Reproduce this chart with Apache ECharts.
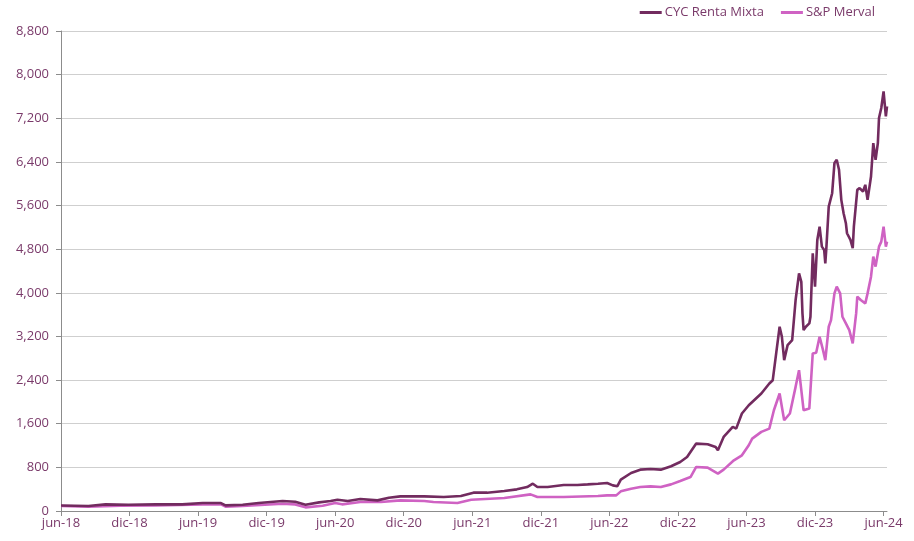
<!DOCTYPE html>
<html>
<head>
<meta charset="utf-8">
<script src="https://cdn.jsdelivr.net/npm/echarts@6/dist/echarts.min.js"></script>
<style>
html,body{margin:0;padding:0;background:#fff;}
#chart{width:914px;height:541px;}
</style>
</head>
<body>
<div id="chart"></div>
<script>
// x values: months elapsed since jun-18
const tickLabels = ['jun-18','dic-18','jun-19','dic-19','jun-20','dic-20','jun-21','dic-21','jun-22','dic-22','jun-23','dic-23','jun-24'];

const cycMonths = [0,2.4,3.9,5.9,8.3,10.6,12.4,14.0,14.4,15.9,17.3,19.4,20.5,21.4,22.6,23.6,24.2,25.1,26.2,27.7,28.7,29.7,31.8,33.5,35.0,36.1,37.3,38.8,39.9,40.8,41.3,41.7,42.6,44.0,45.2,46.1,47.0,47.8,48.3,48.7,49.0,49.9,50.7,51.6,52.5,53.4,54.2,54.8,55.6,56.6,57.3,57.5,58.0,58.8,59.1,59.6,60.2,61.3,62.0,62.3,62.6,62.9,63.1,63.3,63.6,64.0,64.3,64.6,64.8,64.9,65.0,65.2,65.5,65.6,65.8,66.0,66.2,66.4,66.6,66.8,66.9,67.0,67.2,67.5,67.7,67.9,68.1,68.3,68.5,68.7,68.8,69.1,69.3,69.4,69.7,69.9,70.2,70.4,70.6,70.9,71.1,71.3,71.5,71.6,71.8,72.0,72.2,72.3];
const cycValues = [100,91,121,115,121,121,146,146,103,115,146,182,170,115,158,182,207,182,219,195,244,268,268,256,274,336,336,366,397,439,501,439,439,476,476,488,501,513,470,455,575,697,758,770,758,820,899,990,1236,1224,1174,1114,1357,1541,1510,1787,1939,2154,2338,2398,2889,3378,3194,2766,3041,3133,3868,4358,4200,3623,3317,3378,3439,3561,4725,4112,4969,5214,4847,4786,4541,4847,5581,5826,6378,6439,6255,5704,5459,5276,5092,4969,4817,5214,5888,5919,5857,5980,5704,6132,6745,6439,6745,7205,7389,7694,7235,7419];

const mervalMonths = [0,2.4,5.2,8.3,12.4,14.0,14.4,15.9,19.4,20.5,21.4,22.9,24.0,24.6,26.2,28.0,29.7,31.8,32.6,34.7,35.9,38.8,41.1,41.7,44.0,47.0,47.8,48.6,49.0,49.9,50.7,51.6,52.5,53.4,54.2,55.1,55.6,56.6,57.5,58.0,58.9,59.6,60.2,60.5,61.3,62.0,62.4,62.9,63.1,63.3,63.8,64.3,64.6,64.8,65.0,65.5,65.8,66.1,66.4,66.7,66.9,67.2,67.4,67.7,67.9,68.2,68.4,68.7,69.0,69.3,69.6,69.7,70.0,70.4,70.6,70.9,71.1,71.3,71.6,71.8,72.0,72.2,72.3];
const mervalValues = [91,80,97,103,121,121,79,91,133,121,67,97,146,122,164,164,195,182,164,146,207,238,305,256,256,274,286,286,360,409,439,452,439,488,550,623,807,795,685,758,929,1021,1205,1327,1450,1511,1847,2154,1908,1664,1787,2276,2582,2215,1847,1878,2889,2900,3194,2949,2766,3378,3500,3990,4112,3990,3561,3439,3317,3072,3623,3929,3868,3807,3990,4296,4663,4480,4847,4939,5214,4847,4939];

const textColor = '#7a3a6a';
const chart = echarts.init(document.getElementById('chart'));
const pair = (xs, ys) => xs.map((x, i) => [x, ys[i]]);

chart.setOption({
  animation: false,
  textStyle: { fontFamily: 'Open Sans' },
  legend: {
    top: 1,
    right: 34,
    itemWidth: 22,
    itemHeight: 3,
    itemGap: 17,
    icon: 'rect',
    textStyle: { color: textColor, fontSize: 13, fontFamily: 'Open Sans', padding: [0,0,0,-2] },
    data: ['CYC Renta Mixta', 'S&P Merval']
  },
  grid: { left: 61, right: 27, top: 31, bottom: 30, containLabel: false },
  xAxis: {
    type: 'value',
    min: 0,
    max: 72.3,
    interval: 6,
    axisLine: { lineStyle: { color: '#8c8c8c', width: 1 } },
    axisTick: { show: true, length: 5, lineStyle: { color: '#8c8c8c' } },
    splitLine: { show: false },
    axisLabel: {
      color: textColor,
      fontSize: 13,
      margin: 6,
      showMaxLabel: false,
      formatter: v => (Math.abs(v / 6 - Math.round(v / 6)) < 1e-6 ? tickLabels[Math.round(v / 6)] : '')
    }
  },
  yAxis: {
    type: 'value',
    min: 0,
    max: 8800,
    interval: 800,
    axisLine: { show: true, lineStyle: { color: '#8c8c8c', width: 1 } },
    axisTick: { show: true, length: 5, lineStyle: { color: '#8c8c8c' } },
    splitLine: { lineStyle: { color: '#cfcfcf', width: 1 } },
    axisLabel: {
      color: textColor,
      fontSize: 13,
      margin: 12,
      formatter: v => v.toLocaleString('en-US')
    }
  },
  series: [
    {
      name: 'CYC Renta Mixta',
      type: 'line',
      data: pair(cycMonths, cycValues),
      showSymbol: false,
      symbol: 'none',
      lineStyle: { color: '#722b5f', width: 2.6 },
      itemStyle: { color: '#722b5f' },
      z: 3
    },
    {
      name: 'S&P Merval',
      type: 'line',
      data: pair(mervalMonths, mervalValues),
      showSymbol: false,
      symbol: 'none',
      lineStyle: { color: '#cf62c3', width: 2.6 },
      itemStyle: { color: '#cf62c3' },
      z: 2
    }
  ]
});
</script>
</body>
</html>
